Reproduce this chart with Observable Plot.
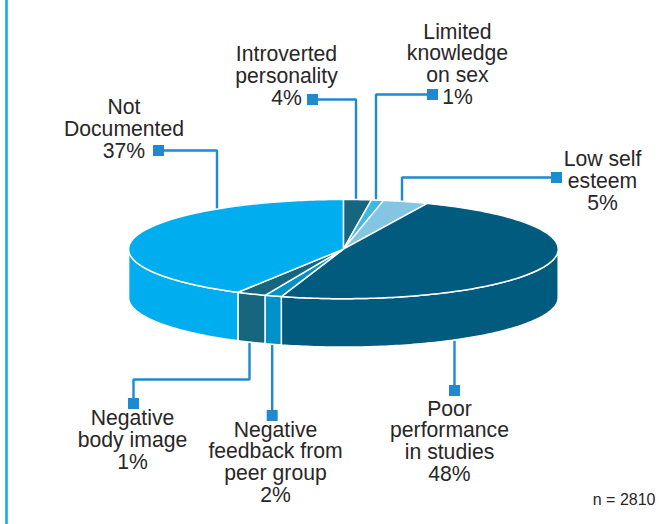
<!DOCTYPE html>
<html>
<head>
<meta charset="utf-8">
<style>html,body{margin:0;padding:0;background:#fff}svg{display:block}</style>
<script src="https://cdn.jsdelivr.net/npm/d3@7"></script>
<script src="https://cdn.jsdelivr.net/npm/@observablehq/plot@0.6"></script>
</head>
<body>
<div id="chart"></div>
<script>
// Data, clockwise from the top of the pie
const categories = ["Introverted personality", "Limited knowledge on sex", "Low self esteem", "Poor performance in studies", "Negative feedback from peer group", "Negative body image", "Not Documented"];
const printedPercent = [4, 1, 5, 48, 2, 1, 37];
// The sweep of each slice as it is drawn in the picture (degrees on the tilted disc)
const drawnSweep = [7.5, 3.3, 12.2, 173.8, 4.6, 8, 150.6];
const sliceColors = ["#17667F", "#3FB8E4", "#84C5E3", "#005B7F", "#0091C9", "#17667F", "#00AEEF"];
const labelLines = [
  "Introverted\npersonality\n4%", "Limited\nknowledge\non sex\n1%", "Low self\nesteem\n5%",
  "Poor\nperformance\nin studies\n48%", "Negative\nfeedback from\npeer group\n2%", "Negative\nbody image\n1%", "Not\nDocumented\n37%"
];
const footnote = "n = 2810";

// Layout, in the picture's coordinates
const disc = {cx: 342.9, cy: 248.6, rx: 214.8, ry: 49.6, depth: 48.4};
const labelX = [286, 457, 602, 449, 275, 132, 123.5];
const labelBase = [104, 103, 209, 480, 501, 468, 157];
const leaders = [
  [[312, 99], [355.5, 99], [355.5, 198]],
  [[432, 94], [375.5, 94], [375.5, 198]],
  [[556, 177], [401.5, 177], [401.5, 200]],
  [[454, 390], [454, 341]],
  [[271.7, 415], [271.7, 345]],
  [[133, 403], [133, 379], [249, 379], [249, 343]],
  [[158, 150], [216.5, 150], [216.5, 208]]
];

const rim = (deg, drop = 0) => {
  const a = deg * Math.PI / 180;
  return {x: disc.cx + disc.rx * Math.sin(a), y: disc.cy - disc.ry * Math.cos(a) + drop};
};
const arc = (a0, a1, drop = 0) => {
  const n = Math.max(2, Math.ceil(a1 - a0) + 1);
  return d3.range(n).map(i => rim(a0 + (a1 - a0) * i / (n - 1), drop));
};

const tops = [], walls = [];
let start = 0;
drawnSweep.forEach((sweep, i) => {
  const end = start + sweep, key = categories[i];
  [{x: disc.cx, y: disc.cy}, ...arc(start, end), {x: disc.cx, y: disc.cy}]
    .forEach(p => tops.push({...p, key}));
  const w0 = Math.max(start, 90), w1 = Math.min(end, 270);
  if (w1 > w0) {
    const front = arc(w0, w1), back = arc(w0, w1, disc.depth).reverse();
    [...front, ...back, front[0]].forEach(p => walls.push({...p, key}));
  }
  start = end;
});

const leaderPoints = leaders.flatMap((pts, i) => pts.map(([x, y]) => ({x, y, key: categories[i]})));
const squares = leaders.map((pts, i) => ({x: pts[0][0], y: pts[0][1], key: categories[i]}));
const labels = categories.map((key, i) => ({key, text: labelLines[i], x: labelX[i], y: labelBase[i], pct: printedPercent[i]}));

const slice = (rows) => Plot.line(rows, {x: "x", y: "y", z: "key", fill: "key", stroke: "#fff", strokeWidth: 1.5, strokeLinejoin: "round"});

const chart = Plot.plot({
  width: 672, height: 524,
  marginTop: 0, marginRight: 0, marginBottom: 0, marginLeft: 0,
  style: {fontFamily: "'Liberation Sans', Arial, sans-serif", background: "#fff"},
  x: {domain: [0, 672], range: [0, 672], axis: null},
  y: {domain: [0, 524], range: [0, 524], axis: null},
  color: {type: "ordinal", domain: categories, range: sliceColors},
  marks: [
    Plot.ruleX([6], {y1: 0, y2: 524, stroke: "#1AA9DE", strokeWidth: 2.6}),
    Plot.line(leaderPoints, {x: "x", y: "y", z: "key", stroke: "#2189CF", strokeWidth: 2.4, strokeLinejoin: "miter"}),
    Plot.dot(squares, {x: "x", y: "y", symbol: "square", r: 6.2, fill: "#1F8ACF", stroke: "none"}),
    slice(walls),
    slice(tops),
    Plot.text(labels, {x: "x", y: "y", text: "text", textAnchor: "middle", lineAnchor: "bottom", lineHeight: 1.02, fontSize: 21.2, fill: "#2A2627"}),
    Plot.text([footnote], {x: () => 655, y: () => 504, text: d => d, textAnchor: "end", lineAnchor: "bottom", fontSize: 16, fill: "#2A2627"})
  ]
});
document.getElementById("chart").appendChild(chart);
</script>
</body>
</html>
